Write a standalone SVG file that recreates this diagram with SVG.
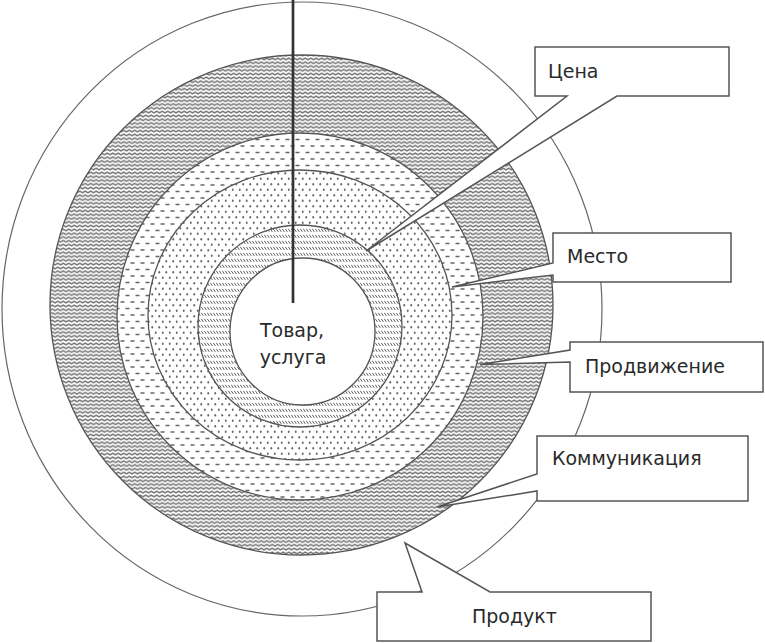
<svg xmlns="http://www.w3.org/2000/svg" width="765" height="643" viewBox="0 0 765 643">
<defs>
<pattern id="wavy" patternUnits="userSpaceOnUse" width="5.5" height="3.8">
<rect width="5.5" height="3.8" fill="#fff"/>
<path d="M-2.75,1 L0,2.8 L2.75,1 L5.5,2.8 L8.25,1" fill="none" stroke="#6e6e6e" stroke-width="1.4"/>
</pattern>
<pattern id="dashed" patternUnits="userSpaceOnUse" width="10" height="13">
<rect width="10" height="13" fill="#fff"/>
<path d="M0.5,3 H4.5 M5.5,9.5 H9.5" stroke="#666" stroke-width="1.5"/>
</pattern>
<pattern id="dotted" patternUnits="userSpaceOnUse" width="7" height="11">
<rect width="7" height="11" fill="#fff"/>
<ellipse cx="1.75" cy="2.75" rx="0.95" ry="1.25" fill="#6a6a6a"/>
<ellipse cx="5.25" cy="8.25" rx="0.95" ry="1.25" fill="#6a6a6a"/>
</pattern>
<pattern id="hatched" patternUnits="userSpaceOnUse" width="3" height="6">
<rect width="3" height="6" fill="#fff"/>
<path d="M0.3,0.8 L2.3,3.9" stroke="#606060" stroke-width="1"/>
</pattern>
</defs>
<style>
.ring{stroke:#555;stroke-width:1.3}
.box{fill:#fff;stroke:#555;stroke-width:1.5;stroke-linejoin:miter}
.lbl{font-family:"DejaVu Sans","Noto Sans",sans-serif;font-size:19px;fill:#2a2a2a}
.ctr{font-family:"DejaVu Sans","Noto Sans",sans-serif;font-size:19px;fill:#2a2a2a;text-anchor:middle}
</style>
<g id="rings">
<ellipse id="ring-product" class="ring" cx="302" cy="309" rx="300" ry="307" fill="#fff" style="stroke:#666;stroke-width:1.2"/>
<ellipse id="ring-communication" class="ring" cx="301.5" cy="305" rx="251.5" ry="250" fill="url(#wavy)"/>
<ellipse id="ring-promotion" class="ring" cx="300" cy="316.5" rx="183" ry="183.5" fill="url(#dashed)"/>
<ellipse id="ring-place" class="ring" cx="300" cy="315" rx="152" ry="145" fill="url(#dotted)"/>
<ellipse id="ring-price" class="ring" cx="300" cy="326" rx="102" ry="101" fill="url(#hatched)"/>
<g id="core">
<ellipse class="ring" cx="302.5" cy="331.5" rx="72.5" ry="73.5" fill="#fff"/>
<text class="ctr" x="292" y="337">Товар,</text>
<text class="ctr" x="293" y="364">услуга</text>
</g>
</g>
<g id="connectors">
<line x1="293" y1="0" x2="293" y2="303" stroke="#333" stroke-width="2.7"/>
</g>
<g id="callout-price">
<path class="box" d="M535,47 H729 V96 H617 L366,251 L567,96 H535 Z"/>
<text class="lbl" x="548" y="78">Цена</text>
</g>
<g id="callout-place">
<path class="box" d="M553,233 H731 V282 H553 V275 L452,287 L553,263 Z"/>
<text class="lbl" x="567" y="263">Место</text>
</g>
<g id="callout-promotion">
<path class="box" d="M570,342 H763 V392 H570 V362 L480,364.5 L570,350 Z"/>
<text class="lbl" x="585" y="373">Продвижение</text>
</g>
<g id="callout-communication">
<path class="box" d="M537,436 H748 V501 H537 V491 L437,507 L537,474 Z"/>
<text class="lbl" x="552" y="465">Коммуникация</text>
</g>
<g id="callout-product">
<path class="box" d="M377,592 H422 L405,543 L490,592 H651 V641 H377 Z"/>
<text class="lbl" x="472" y="623">Продукт</text>
</g>
</svg>
